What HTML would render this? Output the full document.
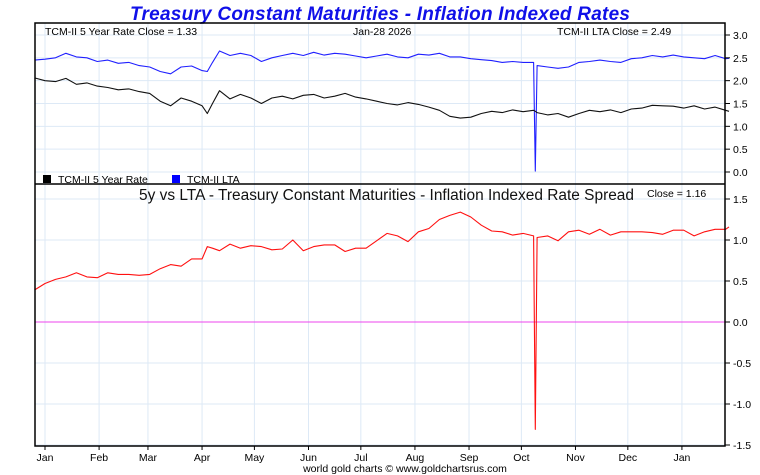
<!DOCTYPE html>
<html><head><meta charset="utf-8"><style>
body{margin:0;background:#fff;}
svg{display:block;font-family:"Liberation Sans",sans-serif;}
</style></head><body>
<svg id="chart" width="760" height="475" viewBox="0 0 760 475">
<text x="380" y="20" text-anchor="middle" font-size="19" font-weight="bold" font-style="italic" fill="#1010e8" textLength="500">Treasury Constant Maturities - Inflation Indexed Rates</text>
<g id="grid"></g>
<g id="series"></g>
<g id="axes"></g>
<rect x="35" y="23" width="690" height="423" fill="none" stroke="#000" stroke-width="1.5"/>
<line x1="35" y1="184" x2="725" y2="184" stroke="#000" stroke-width="1.5"/>
<text x="45" y="35" font-size="10.5">TCM-II 5 Year Rate Close = 1.33</text>
<text x="353" y="35" font-size="10.5">Jan-28  2026</text>
<text x="557" y="35" font-size="10.5">TCM-II LTA Close = 2.49</text>
<rect x="43" y="175" width="8" height="8" fill="#000"/>
<text x="58" y="183" font-size="10.5">TCM-II 5 Year Rate</text>
<rect x="172" y="175" width="8" height="8" fill="#0000ff"/>
<text x="187" y="183" font-size="10.5">TCM-II LTA</text>
<text x="139" y="200" font-size="15.5" fill="#111" textLength="495" lengthAdjust="spacingAndGlyphs">5y vs LTA - Treasury Constant Maturities - Inflation Indexed Rate Spread</text>
<text x="647" y="197" font-size="10.5">Close = 1.16</text>
<text x="405" y="472" text-anchor="middle" font-size="10.5">world gold charts © www.goldchartsrus.com</text>
</svg>
<script>
const days=[-6,0,6,12,18,24,30,36,42,48,54,60,66,72,78,84,90,93,96,100,106,112,118,124,130,136,142,148,154,160,166,172,178,184,190,196,202,208,214,220,226,232,238,244,250,256,262,268,274,280,281,282,288,294,300,306,312,318,324,330,336,342,348,354,360,366,372,378,384,390,392];
const fiveY=[2.06,2.0,1.98,2.05,1.92,1.95,1.88,1.85,1.8,1.82,1.76,1.72,1.55,1.45,1.62,1.55,1.45,1.28,1.5,1.78,1.6,1.7,1.62,1.5,1.62,1.66,1.6,1.68,1.7,1.62,1.66,1.72,1.64,1.6,1.55,1.5,1.47,1.52,1.48,1.42,1.35,1.22,1.18,1.2,1.28,1.33,1.3,1.36,1.32,1.35,1.33,1.3,1.25,1.28,1.2,1.28,1.35,1.32,1.36,1.3,1.38,1.4,1.46,1.45,1.44,1.4,1.45,1.38,1.42,1.35,1.33];
const lta=[2.45,2.47,2.5,2.6,2.52,2.5,2.42,2.45,2.38,2.4,2.33,2.3,2.2,2.15,2.3,2.32,2.22,2.2,2.4,2.65,2.55,2.6,2.55,2.42,2.5,2.55,2.6,2.55,2.62,2.56,2.6,2.58,2.54,2.5,2.54,2.58,2.52,2.5,2.58,2.56,2.6,2.52,2.52,2.48,2.46,2.44,2.4,2.42,2.4,2.4,0.02,2.33,2.3,2.27,2.3,2.4,2.42,2.45,2.42,2.4,2.48,2.5,2.55,2.52,2.56,2.52,2.5,2.48,2.55,2.48,2.49];
const topTicks=[3.0,2.5,2.0,1.5,1.0,0.5,0.0];
const botTicks=[1.5,1.0,0.5,0.0,-0.5,-1.0,-1.5];
const monthLabels=["Jan","Feb","Mar","Apr","May","Jun","Jul","Aug","Sep","Oct","Nov","Dec","Jan"];
const monthDays=[0,31,59,90,120,151,181,212,243,273,304,334,365];
const NS="http://www.w3.org/2000/svg";
const xs=d=>45+d*1.745;
const yTop=v=>172-v*45.67;
const yBot=v=>322-v*82;
function mk(tag,attrs,parent){const e=document.createElementNS(NS,tag);for(const k in attrs)e.setAttribute(k,attrs[k]);parent.appendChild(e);return e;}
const grid=document.getElementById('grid'),ser=document.getElementById('series'),ax=document.getElementById('axes');
monthDays.forEach((d,i)=>{
  const l=mk('line',{x1:xs(d),x2:xs(d),y1:23,y2:446,stroke:'#dde9f6','stroke-width':1},grid);
  
  
  const t=mk('line',{x1:xs(d),x2:xs(d),y1:446,y2:450,stroke:'#000'},ax);
  
  
  const tx=mk('text',{x:xs(d),y:461,'text-anchor':'middle','font-size':10.5},ax);
  tx.textContent=monthLabels[i];
  
  
});
function yAxis(ticks,fy){ticks.forEach(v=>{
  const g=mk('line',{x1:35,x2:725,y1:fy(v),y2:fy(v),stroke:'#dde9f6'},grid);
  
  
  const t=mk('line',{x1:725,x2:730,y1:fy(v),y2:fy(v),stroke:'#000'},ax);
  
  
  const tx=mk('text',{x:733,y:fy(v)+4,'font-size':10.5},ax);
  tx.textContent=v.toFixed(1);
  
  
});}
yAxis(topTicks,yTop);yAxis(botTicks,yBot);
const zl=mk('line',{x1:35,x2:725,y1:yBot(0),y2:yBot(0),stroke:'#ee44ee'},ser);


function line(vals,fy,color,name){
  const p=mk('polyline',{points:days.map((d,i)=>xs(d).toFixed(1)+','+fy(vals[i]).toFixed(1)).join(' '),fill:'none',stroke:color,'stroke-width':1.1,'stroke-linejoin':'round'},ser);
  
  
}
const spread=lta.map((v,i)=>v-fiveY[i]);
line(lta,yTop,'#2020ff','lta-line');
line(fiveY,yTop,'#111','five-year-line');
line(spread,yBot,'#ff1010','spread-line');
</script>
</body></html>
